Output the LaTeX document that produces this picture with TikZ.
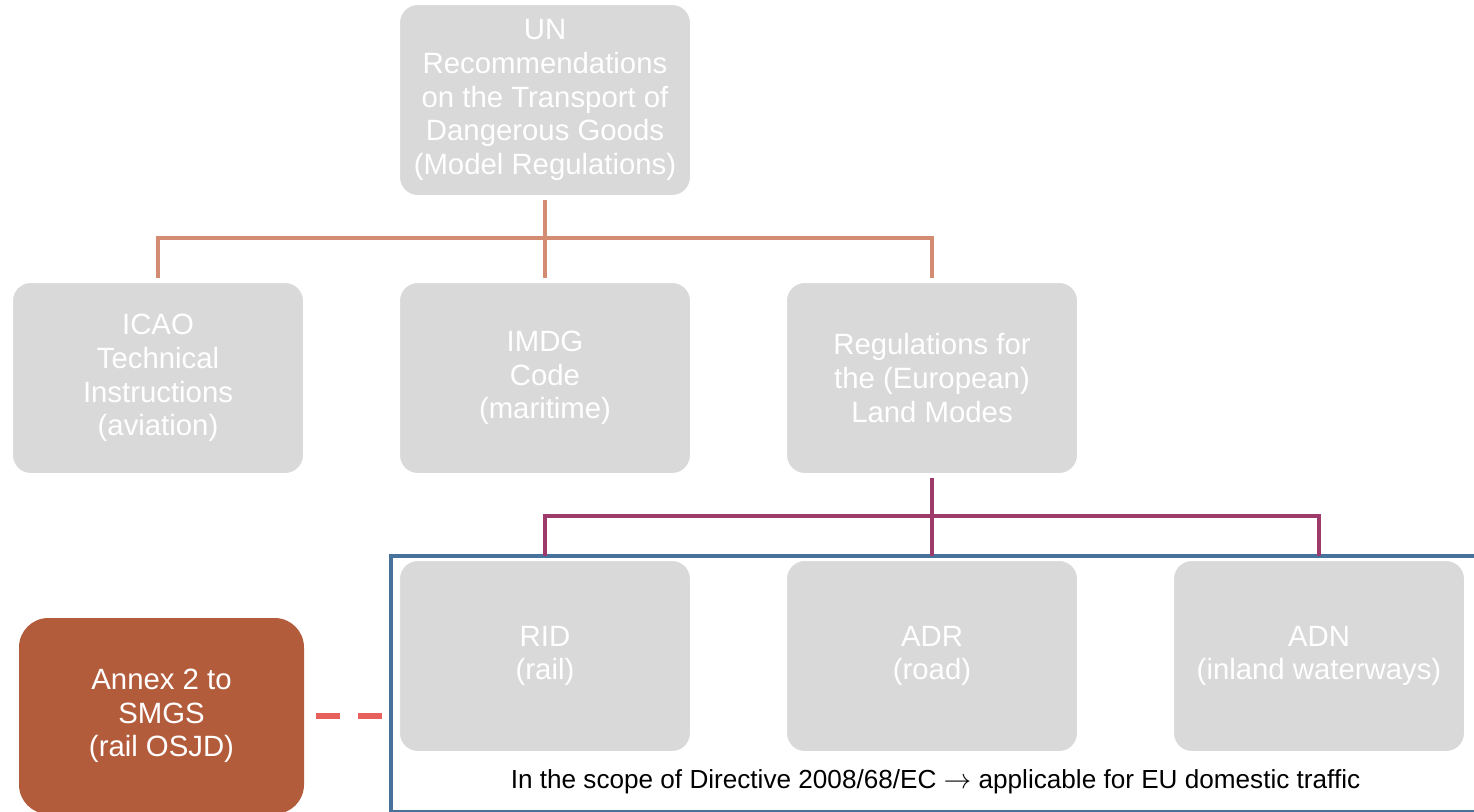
\documentclass[tikz,border=0pt]{standalone}
\usepackage{fontspec}
\setmainfont{Liberation Sans}
\usetikzlibrary{
  trees
}
\definecolor{boxgrey}{HTML}{D9D9D9}
\definecolor{annexfill}{HTML}{B35C3C}
\definecolor{unline}{HTML}{D38C72}
\definecolor{landline}{HTML}{9E3B6B}
\definecolor{scopeblue}{HTML}{47729C}
\definecolor{osjddash}{HTML}{E8605C}

\begin{document}
\begin{tikzpicture}[
  x=0.75pt, y=-0.75pt,
  level distance=208.5pt,
  regbox/.style = {shape=rectangle, rounded corners=14pt,
    fill=boxgrey, draw=white, line width=1.5pt, outer sep=3pt,
    minimum width=219pt, minimum height=144pt, align=center,
    text=white, font=\fontsize{22pt}{25.2pt}\selectfont},
  every child node/.style = {regbox},
  edge from parent path = {(\tikzparentnode.south) -- +(0,-28.5pt)
    -| (\tikzchildnode.north)}]
  \tikzstyle{level 1}=[sibling distance=290.25pt,
    edge from parent/.style={draw=unline, line width=3.4pt}]
  \tikzstyle{level 2}=[sibling distance=290.25pt,
    edge from parent/.style={draw=landline, line width=3.4pt}]
  \useasboundingbox (0,0) rectangle (1474,811);
  % frame of the directive
  \node[draw=scopeblue, line width=3pt, minimum width=815.6pt,
    minimum height=192pt, anchor=north west] (scope) at (388.5,553.5) {};
  \node[font=\fontsize{19.6pt}{23pt}\selectfont] (scopenote) at (935.5,782)
    {In the scope of Directive 2008/68/EC $\rightarrow$ applicable for EU domestic traffic};
  \node[regbox] (un) at (545,100)
    {UN\\Recommendations\\on the Transport of\\Dangerous Goods\\(Model Regulations)}
    child { node (icao) {ICAO\\Technical\\Instructions\\(aviation)}}
    child { node (imdg) {IMDG\\Code\\(maritime)}}
    child { node (land) {Regulations for\\the (European)\\Land Modes}
      child { node (rid) {RID\\(rail)} }
      child { node (adr) {ADR\\(road)} }
      child { node (adn) {ADN\\(inland waterways)} }};
  \node[regbox, fill=annexfill, draw=none, outer sep=0pt, rounded corners=22pt,
    minimum width=213.75pt, minimum height=147pt] (annex) at (161.5,716)
    {Annex 2 to\\SMGS\\(rail OSJD)};
  \draw[osjddash, line width=4.5pt, dash pattern=on 18pt off 13.5pt,
    shorten <=9pt, shorten >=3.4pt] (annex.east) -- (annex.east -| scope.west);
\end{tikzpicture}
\end{document}
